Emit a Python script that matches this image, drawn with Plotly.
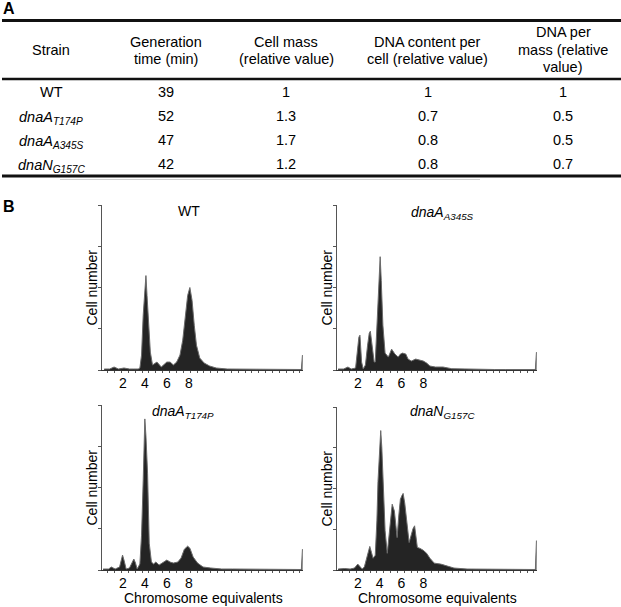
import plotly.graph_objects as go

W, H = 621, 607
FONT = "Liberation Sans, Arial, sans-serif"

# ---------------- Panel A: table data ----------------
headers = [["Strain"],
           ["Generation", "time (min)"],
           ["Cell mass", "(relative value)"],
           ["DNA content per", "cell (relative value)"],
           ["DNA per", "mass (relative", "value)"]]
strains = ["WT",
           "<i>dnaA</i><sub><i>T174P</i></sub>",
           "<i>dnaA</i><sub><i>A345S</i></sub>",
           "<i>dnaN</i><sub><i>G157C</i></sub>"]
generation_time = ["39", "52", "47", "42"]
cell_mass = ["1", "1.3", "1.7", "1.2"]
dna_content = ["1", "0.7", "0.8", "0.8"]
dna_per_mass = ["1", "0.5", "0.5", "0.7"]

# ---------------- Panel B: histogram data (chromosome equivalents vs cell number, a.u.) ----------------
wt_x = [0.3, 0.8, 1.2, 1.6, 2.1, 2.6, 3.0, 3.4, 3.55, 3.7, 3.85, 4.0, 4.1, 4.2, 4.35, 4.5, 4.7,
        5.1, 5.5, 6.0, 6.3, 6.6, 6.9, 7.2, 7.45, 7.7, 7.9, 8.1, 8.3, 8.5, 8.7, 9.0, 9.4, 9.9, 10.5,
        11.5, 12.5, 13.5, 14.5, 15.5, 16.5, 17.5, 18.25, 18.35]
wt_y = [1, 1, 3, 1, 2, 1, 1, 1, 2, 15, 55, 88, 95, 75, 45, 18, 5,
        8, 3, 8, 8, 5, 8, 15, 30, 55, 75, 83, 70, 45, 25, 12, 7, 4, 2,
        1, 1, 1, 0.5, 0.5, 0.5, 0.5, 0.5, 15]

a345_x = [0.2, 0.7, 1.1, 1.4, 1.8, 1.95, 2.1, 2.2, 2.35, 2.5, 2.7, 2.9, 3.05, 3.15, 3.3, 3.5, 3.6,
          3.75, 3.9, 4.05, 4.15, 4.3, 4.5, 4.8, 5.1, 5.4, 5.7, 5.9, 6.1, 6.4, 6.6, 6.9, 7.3, 7.7,
          8.0, 8.3, 8.6, 9.1, 9.8, 10.6, 11.5, 12.5, 13.5, 14.5, 15.5, 16.5, 17.5, 18.25, 18.35]
a345_y = [1, 1, 3, 1, 2, 15, 33, 35, 8, 1, 5, 25, 37, 39, 25, 8, 8,
          40, 85, 114, 90, 45, 17, 13, 21, 16, 13, 16, 17, 16, 11, 9, 11, 10,
          9, 7, 4, 3, 3, 1.3, 1, 0.7, 0.7, 0.5, 0.5, 0.5, 0.5, 0.5, 18]

t174_x = [0.2, 0.7, 0.95, 1.3, 1.7, 1.85, 1.97, 2.1, 2.3, 2.6, 2.8, 3.0, 3.15, 3.3, 3.55, 3.7,
          3.85, 4.0, 4.1, 4.25, 4.4, 4.6, 4.8, 5.0, 5.3, 5.7, 6.0, 6.3, 6.6, 7.0, 7.3, 7.6, 7.9,
          8.1, 8.4, 8.8, 9.3, 10.0, 11.0, 12.0, 13.0, 14.0, 15.0, 16.0, 17.0, 18.25, 18.35]
t174_y = [1, 1, 3, 1, 3, 10, 15, 10, 1, 2, 7, 11, 7, 1, 6, 35,
          90, 152, 135, 97, 27, 8, 6, 8, 5, 8, 10, 8, 7, 8, 12, 21, 24,
          22, 13, 7, 3, 2, 1, 1, 1, 0.5, 0.5, 0.5, 0.5, 0.5, 21]

g157_x = [0.2, 0.8, 1.3, 1.7, 2.0, 2.2, 2.4, 2.6, 2.75, 2.95, 3.1, 3.25, 3.4, 3.6, 3.75, 3.85,
          4.0, 4.1, 4.2, 4.3, 4.5, 4.7, 4.9, 5.05, 5.15, 5.35, 5.5, 5.6, 5.75, 5.9, 6.05, 6.15,
          6.3, 6.45, 6.7, 6.9, 7.05, 7.2, 7.3, 7.45, 7.7, 8.0, 8.3, 8.6, 9.0, 9.6, 10.2, 10.8,
          12.0, 13.0, 14.0, 15.0, 16.0, 17.0, 18.25, 18.35]
g157_y = [1, 1.5, 1, 2, 6, 4, 1, 3, 10, 20, 24, 18, 12, 15, 50, 90,
          130, 142, 125, 97, 40, 17, 40, 60, 67, 60, 40, 33, 55, 72, 76, 78,
          68, 50, 28, 36, 42, 45, 35, 23, 22, 20, 17, 12, 7, 6, 4, 2,
          1, 1, 0.5, 0.5, 0.5, 0.5, 0.5, 30]

panel_titles = ["WT", "<i>dnaA</i><sub><i>A345S</i></sub>",
                "<i>dnaA</i><sub><i>T174P</i></sub>", "<i>dnaN</i><sub><i>G157C</i></sub>"]
x_tick_vals = [2, 4, 6, 8]
x_tick_text = ["2", "4", "6", "8"]
y_title = "Cell number"
x_title = "Chromosome equivalents"


def px(x, y):
    return x / W, 1 - y / H


fig = go.Figure()

series = [(wt_x, wt_y), (a345_x, a345_y), (t174_x, t174_y), (g157_x, g157_y)]
for i, (xs, ys) in enumerate(series):
    suf = "" if i == 0 else str(i + 1)
    fig.add_trace(go.Scatter(
        x=xs, y=ys, mode="lines", fill="tozeroy",
        fillcolor="#242424", line=dict(color="#6a6a6a", width=1),
        xaxis="x" + suf, yaxis="y" + suf, showlegend=False, hoverinfo="skip"))

# panel placement (pixels): left, right, top, bottom of each plot area
boxes = [(102, 303, 205, 370), (337, 537, 205, 370), (102, 303, 405, 570), (337, 537, 407, 570)]
layout_axes = {}
for i, (l, r, t, b) in enumerate(boxes):
    suf = "" if i == 0 else str(i + 1)
    layout_axes["xaxis" + suf] = dict(
        domain=[l / W, r / W], anchor="y" + suf, range=[0.1, 18.4],
        showgrid=False, zeroline=False, showline=True, linecolor="#333", linewidth=1,
        tickmode="array", tickvals=x_tick_vals, ticktext=x_tick_text, ticks="",
        tickfont=dict(family=FONT, size=14, color="#000"),
        minor=dict(ticks="outside", tickmode="linear", tick0=0, dtick=0.625,
                   ticklen=2, tickcolor="#555", tickwidth=1),
        fixedrange=True)
    layout_axes["yaxis" + suf] = dict(
        domain=[1 - b / H, 1 - t / H], anchor="x" + suf, range=[0, 166],
        showgrid=False, zeroline=False, showline=True, linecolor="#555", linewidth=1,
        showticklabels=False, ticks="outside", ticklen=3, tickcolor="#555",
        tickmode="linear", tick0=0, dtick=41.5, fixedrange=True)

annotations = []


def txt(text, x, y, size=14.5, bold=False, angle=0, xanchor="center"):
    xp, yp = px(x, y)
    annotations.append(dict(
        text=("<b>%s</b>" % text) if bold else text, x=xp, y=yp, xref="paper", yref="paper",
        showarrow=False, xanchor=xanchor, yanchor="middle", textangle=angle,
        font=dict(family=FONT, size=size, color="#000")))


# Panel labels
txt("A", 9, 9, size=16, bold=True)
txt("B", 9, 207, size=16, bold=True)

# Table header
col_x = [51, 166, 286, 428, 563]
header_y = {1: [50], 2: [42, 59], 3: [32, 50, 67]}
for cx, lines in zip(col_x, headers):
    for line, ly in zip(lines, header_y[len(lines)]):
        txt(line, cx, ly)

row_y = [92, 116, 140, 164]
cols = [strains, generation_time, cell_mass, dna_content, dna_per_mass]
for cx, col in zip(col_x, cols):
    for val, ry in zip(col, row_y):
        txt(val, cx, ry + (2 if "<sub>" in val else 0))

# Panel titles and axis titles
title_pos = [(189, 211), (442, 213), (183, 412), (442, 412)]
for t, (tx, ty) in zip(panel_titles, title_pos):
    txt(t, tx, ty, size=14)
for (l, r, t, b) in boxes:
    txt(y_title, l - 11, (t + b) / 2, size=14, angle=-90)
txt(x_title, 203, 598, size=14)
txt(x_title, 437, 598, size=14)

shapes = []


def hline(x0, x1, y, width, color="#000"):
    a0, b0 = px(x0, y)
    a1, _ = px(x1, y)
    shapes.append(dict(type="line", xref="paper", yref="paper", x0=a0, x1=a1, y0=b0, y1=b0,
                       line=dict(color=color, width=width)))


hline(2, 621, 20.5, 3, "#111")
hline(2, 621, 79, 2.6, "#111")
hline(2, 621, 176, 3, "#111")
hline(60, 480, 179.5, 1, "#cfcfcf")

fig.update_layout(
    width=W, height=H, margin=dict(l=0, r=0, t=0, b=0),
    paper_bgcolor="#fff", plot_bgcolor="#fff",
    annotations=annotations, shapes=shapes, showlegend=False,
    **layout_axes)

fig.write_html("out.html", post_script="document.body.style.margin='0';",
               config={"displayModeBar": False})
